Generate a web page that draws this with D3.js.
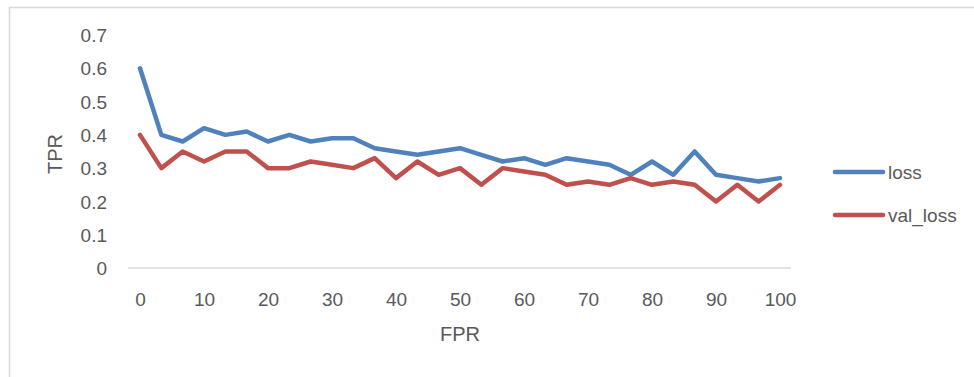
<!DOCTYPE html>
<html>
<head>
<meta charset="utf-8">
<script src="https://cdn.jsdelivr.net/npm/d3@7"></script>
<style>
  html, body { margin: 0; padding: 0; background: #fff; }
  svg { display: block; }
  text { font-family: "Liberation Sans", Arial, sans-serif; fill: #595959; }
</style>
</head>
<body>
<svg id="chart" width="974" height="377"></svg>
<script>
// Training history: 31 epochs spread over the 0–100 axis
const xTicks = [0, 10, 20, 30, 40, 50, 60, 70, 80, 90, 100];
const yTicks = [0, 0.1, 0.2, 0.3, 0.4, 0.5, 0.6, 0.7];
const seriesNames = ["loss", "val_loss"];
const seriesColors = ["#4F81BD", "#C0504D"];
const loss = [0.60, 0.40, 0.38, 0.42, 0.40, 0.41, 0.38, 0.40, 0.38, 0.39, 0.39,
              0.36, 0.35, 0.34, 0.35, 0.36, 0.34, 0.32, 0.33, 0.31, 0.33,
              0.32, 0.31, 0.28, 0.32, 0.28, 0.35, 0.28, 0.27, 0.26, 0.27];
const valLoss = [0.40, 0.30, 0.35, 0.32, 0.35, 0.35, 0.30, 0.30, 0.32, 0.31, 0.30,
                 0.33, 0.27, 0.32, 0.28, 0.30, 0.25, 0.30, 0.29, 0.28, 0.25,
                 0.26, 0.25, 0.27, 0.25, 0.26, 0.25, 0.20, 0.25, 0.20, 0.25];
const series = [loss, valLoss];

const svg = d3.select("#chart");

// outer chart frame
svg.append("rect")
  .attr("x", 9.5).attr("y", 7.5)
  .attr("width", 1000).attr("height", 400)
  .attr("fill", "none").attr("stroke", "#d9d9d9").attr("stroke-width", 1.5);

const x = d3.scaleLinear().domain([0, 100]).range([140, 780]);
const y = d3.scaleLinear().domain([0, 0.7]).range([268, 35]);

// horizontal base line
svg.append("line")
  .attr("x1", x(0) - 12).attr("x2", x(100) + 11)
  .attr("y1", y(0)).attr("y2", y(0))
  .attr("stroke", "#d9d9d9").attr("stroke-width", 1.5);

// y axis labels
const yAxis = d3.axisLeft(y).tickValues(yTicks).tickSize(0).tickPadding(0)
  .tickFormat(d => d === 0 ? "0" : d3.format(".1f")(d));
const gy = svg.append("g").attr("transform", "translate(107,0)").call(yAxis);
gy.select(".domain").remove();
gy.selectAll("text").attr("font-size", 19).attr("fill", "#595959")
  .attr("font-family", "Liberation Sans, Arial, sans-serif").attr("dy", "0.35em");

// x axis labels
const xAxis = d3.axisBottom(x).tickValues(xTicks).tickSize(0).tickPadding(0)
  .tickFormat(d3.format("d"));
const gx = svg.append("g").attr("transform", "translate(0,299)").call(xAxis);
gx.select(".domain").remove();
gx.selectAll("text").attr("font-size", 19).attr("fill", "#595959")
  .attr("font-family", "Liberation Sans, Arial, sans-serif").attr("dy", "0.35em");

// axis titles
svg.append("text").attr("x", 460).attr("y", 334).attr("dy", "0.35em")
  .attr("text-anchor", "middle").attr("font-size", 20).text("FPR");
svg.append("text").attr("transform", "translate(55,154) rotate(-90)")
  .attr("dy", "0.35em").attr("text-anchor", "middle").attr("font-size", 20).text("TPR");

// series lines
const step = 100 / (loss.length - 1);
const line = d3.line().x((d, i) => x(i * step)).y(d => y(d));
series.forEach((s, k) => {
  svg.append("path").datum(s)
    .attr("d", line)
    .attr("fill", "none")
    .attr("stroke", seriesColors[k])
    .attr("stroke-width", 4.5)
    .attr("stroke-linejoin", "round")
    .attr("stroke-linecap", "round");
});

// legend
seriesNames.forEach((name, k) => {
  const ly = 172 + k * 43;
  svg.append("line")
    .attr("x1", 835).attr("x2", 883).attr("y1", ly).attr("y2", ly)
    .attr("stroke", seriesColors[k]).attr("stroke-width", 4.5)
    .attr("stroke-linecap", "round");
  svg.append("text").attr("x", 888).attr("y", ly).attr("dy", "0.35em")
    .attr("font-size", 19).text(name);
});
</script>
</body>
</html>
